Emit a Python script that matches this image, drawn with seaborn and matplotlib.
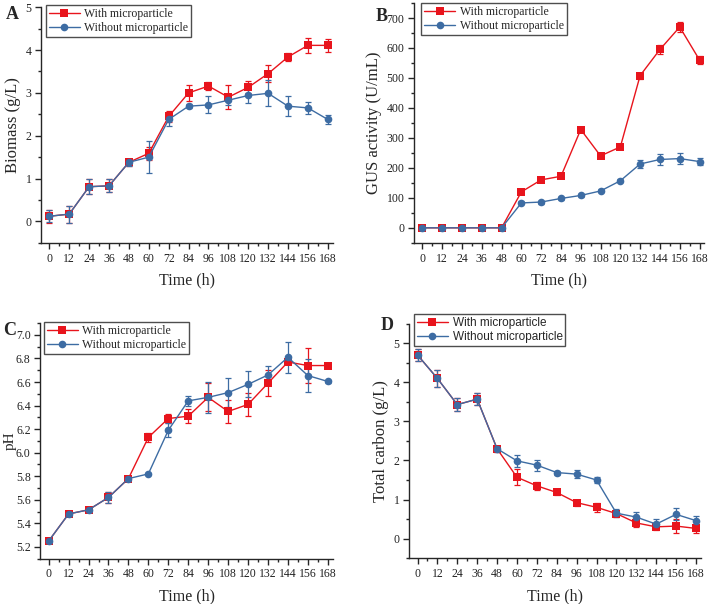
import numpy as np
import pandas as pd
import matplotlib
matplotlib.use("Agg")
import matplotlib.pyplot as plt
import seaborn as sns
from matplotlib.ticker import MultipleLocator, FormatStrFormatter

# Data
time_h = [0, 12, 24, 36, 48, 60, 72, 84, 96, 108, 120, 132, 144, 156, 168]

biomass_with = [0.12, 0.17, 0.81, 0.83, 1.38, 1.59, 2.45, 3.00, 3.16, 2.90, 3.13, 3.45, 3.84, 4.11, 4.11]
biomass_with_err = [0.15, 0.20, 0.17, 0.15, 0.08, 0.15, 0.12, 0.18, 0.10, 0.28, 0.14, 0.20, 0.10, 0.17, 0.15]
biomass_without = [0.12, 0.17, 0.81, 0.83, 1.38, 1.50, 2.38, 2.69, 2.72, 2.83, 2.94, 2.99, 2.69, 2.65, 2.38]
biomass_without_err = [0.14, 0.20, 0.17, 0.15, 0.08, 0.38, 0.15, 0.05, 0.20, 0.12, 0.18, 0.30, 0.23, 0.14, 0.10]

gus_with = [0, 0, 0, 0, 0, 120, 160, 172, 328, 240, 270, 508, 595, 670, 560]
gus_with_err = [3, 3, 3, 3, 3, 8, 5, 5, 5, 8, 5, 10, 15, 18, 12]
gus_without = [0, 0, 0, 0, 0, 83, 86, 98, 108, 123, 157, 213, 228, 231, 221]
gus_without_err = [3, 3, 3, 3, 3, 5, 5, 5, 5, 5, 5, 13, 17, 18, 12]

ph_with = [5.25, 5.48, 5.515, 5.62, 5.78, 6.13, 6.29, 6.31, 6.47, 6.35, 6.41, 6.59, 6.77, 6.74, 6.74]
ph_with_err = [0.01, 0.01, 0.01, 0.05, 0.01, 0.04, 0.04, 0.06, 0.12, 0.10, 0.10, 0.11, 0.02, 0.15, 0.01]
ph_without = [5.25, 5.48, 5.515, 5.62, 5.78, 5.82, 6.19, 6.44, 6.47, 6.51, 6.58, 6.66, 6.81, 6.655, 6.605]
ph_without_err = [0.01, 0.01, 0.01, 0.05, 0.01, 0.01, 0.06, 0.04, 0.13, 0.12, 0.11, 0.08, 0.13, 0.14, 0.01]

carbon_with = [4.70, 4.10, 3.43, 3.57, 2.30, 1.57, 1.35, 1.18, 0.92, 0.80, 0.64, 0.40, 0.30, 0.32, 0.26]
carbon_with_err = [0.15, 0.22, 0.17, 0.15, 0.08, 0.20, 0.10, 0.07, 0.08, 0.12, 0.10, 0.10, 0.08, 0.18, 0.12]
carbon_without = [4.70, 4.10, 3.43, 3.57, 2.30, 1.99, 1.88, 1.69, 1.65, 1.50, 0.65, 0.55, 0.37, 0.62, 0.46]
carbon_without_err = [0.15, 0.22, 0.17, 0.15, 0.08, 0.15, 0.14, 0.05, 0.10, 0.08, 0.10, 0.12, 0.12, 0.15, 0.12]

labels = ['With microparticle', 'Without microparticle']
red = '#e8141c'
blue = '#3d6ca3'

sns.set_style('ticks')
plt.rcParams['font.family'] = ['Liberation Serif', 'DejaVu Serif']
plt.rcParams['axes.linewidth'] = 1.0

fig = plt.figure(figsize=(7.08, 6.04), dpi=100)

panels = [
    # letter, axes pos, series..., ylabel, ylim, major, minor, legend anchor, legend font, letter pos
    ('A', [0.058, 0.598, 0.412, 0.390], biomass_with, biomass_with_err, biomass_without, biomass_without_err,
     'Biomass (g/L)', (-0.5, 5), 1, 0.5, (0.065, 0.992), 'Liberation Serif', (0.008, 0.990)),
    ('B', [0.585, 0.598, 0.410, 0.397], gus_with, gus_with_err, gus_without, gus_without_err,
     'GUS activity (U/mL)', (-50, 750), 100, 50, (0.595, 0.995), 'Liberation Serif', (0.531, 0.986)),
    ('C', [0.057, 0.075, 0.413, 0.390], ph_with, ph_with_err, ph_without, ph_without_err,
     'pH', (5.1, 7.1), 0.2, 0.1, (0.062, 0.467), 'Liberation Serif', (0.004, 0.467)),
    ('D', [0.578, 0.076, 0.412, 0.388], carbon_with, carbon_with_err, carbon_without, carbon_without_err,
     'Total carbon (g/L)', (-0.5, 5.5), 1, 0.5, (0.585, 0.480), 'Liberation Sans', (0.537, 0.475)),
]

for letter, pos, yw, ew, yo, eo, ylabel, ylim, major, minor, leg_anchor, leg_font, letter_pos in panels:
    ax = fig.add_axes(pos)
    df = pd.DataFrame({
        'Time': time_h * 2,
        'Value': yw + yo,
        'Group': [labels[0]] * len(time_h) + [labels[1]] * len(time_h),
    })
    ax.errorbar(time_h, yw, yerr=ew, fmt='none', ecolor=red, elinewidth=0.9, capsize=2.5, capthick=0.9, zorder=2)
    ax.errorbar(time_h, yo, yerr=eo, fmt='none', ecolor=blue, elinewidth=0.9, capsize=2.5, capthick=0.9, zorder=3)
    sns.lineplot(data=df, x='Time', y='Value', hue='Group', style='Group',
                 palette=[red, blue], markers=['s', 'o'], dashes=False,
                 markersize=5.5, markeredgewidth=0, linewidth=1.0, ax=ax, zorder=4)
    ax.set_xlim(-5, 171)
    ax.set_ylim(*ylim)
    ax.set_xticks(time_h)
    ax.xaxis.set_minor_locator(MultipleLocator(6))
    ax.yaxis.set_major_locator(MultipleLocator(major))
    ax.yaxis.set_minor_locator(MultipleLocator(minor))
    if letter == 'C':
        ax.yaxis.set_major_formatter(FormatStrFormatter('%.1f'))
    ax.tick_params(axis='both', which='major', direction='out', length=4, width=1, labelsize=8.5, pad=3)
    ax.tick_params(axis='both', which='minor', direction='out', length=2.5, width=1)
    for lab in ax.get_xticklabels() + ax.get_yticklabels():
        lab.set_color('#222222')
    sns.despine(ax=ax)
    ax.set_xlabel('Time (h)', fontsize=11.5, labelpad=6)
    if letter == 'C':
        ax.set_ylabel(ylabel, fontsize=11)
        ax.yaxis.set_label_coords(-0.082, 0.5)
    else:
        ax.set_ylabel(ylabel, fontsize=12, labelpad=3)
    handles, _ = ax.get_legend_handles_labels()
    leg = ax.legend(handles, labels, loc='upper left', bbox_to_anchor=leg_anchor,
                    bbox_transform=fig.transFigure, frameon=True, fancybox=False,
                    prop={'family': leg_font, 'size': 8.5}, handlelength=2.6,
                    borderpad=0.25, labelspacing=0.2, handletextpad=0.4, borderaxespad=0)
    leg.get_frame().set_edgecolor('#222222')
    leg.get_frame().set_linewidth(1.0)
    fig.text(letter_pos[0], letter_pos[1], letter, fontsize=13, fontweight='bold', va='top', ha='left')

fig.savefig('out.png', dpi=100)
